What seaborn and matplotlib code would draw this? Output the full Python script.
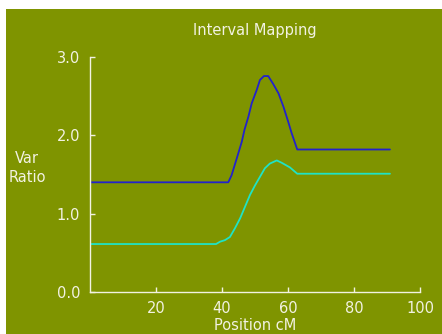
import matplotlib
matplotlib.use("Agg")
import matplotlib.pyplot as plt
from matplotlib.patches import Rectangle
import pandas as pd
import seaborn as sns

# Variance-ratio profiles along the chromosome (cM)
upper_pos = [0, 41.9, 42.9, 44.5, 46.0, 46.8, 48.0, 49.0, 50.5, 51.5, 52.7, 54.0,
             55.5, 57.1, 58.6, 60.1, 61.1, 62.8, 90.9]
upper_ratio = [1.40, 1.40, 1.49, 1.71, 1.92, 2.07, 2.24, 2.41, 2.58, 2.71, 2.76, 2.76,
               2.66, 2.54, 2.37, 2.17, 2.03, 1.82, 1.82]

lower_pos = [0, 38.2, 39.4, 40.9, 42.4, 43.9, 45.5, 47.0, 48.5, 50.0, 51.5, 53.0,
             54.5, 56.6, 58.1, 60.6, 62.8, 90.9]
lower_ratio = [0.61, 0.61, 0.64, 0.66, 0.70, 0.81, 0.94, 1.09, 1.24, 1.36, 1.47, 1.58,
               1.64, 1.68, 1.65, 1.59, 1.51, 1.51]

x_ticks = [20, 40, 60, 80, 100]
y_ticks = [0.0, 1.0, 2.0, 3.0]
y_tick_labels = ["0.0", "1.0", "2.0", "3.0"]

BG = "#7f9400"
FG = "#f2f2e2"
LINE_COLORS = {"upper": "#2222cc", "lower": "#1fe3c6"}

df = pd.concat([
    pd.DataFrame({"pos": upper_pos, "ratio": upper_ratio, "series": "upper"}),
    pd.DataFrame({"pos": lower_pos, "ratio": lower_ratio, "series": "lower"}),
], ignore_index=True)

sns.set_style("white")
plt.rcParams["font.family"] = ["DejaVu Sans"]

W, H = 442, 334
fig = plt.figure(figsize=(W / 100, H / 100), dpi=100, facecolor="white")
fig.add_artist(Rectangle((6 / W, 0), 1 - 6 / W, (H - 9) / H, transform=fig.transFigure,
                         facecolor=BG, edgecolor="none", zorder=-10))

ax = fig.add_axes([90 / W, (H - 291.7) / H, 330 / W, (291.7 - 57.3) / H])
ax.set_facecolor("none")

sns.lineplot(data=df, x="pos", y="ratio", hue="series", palette=LINE_COLORS,
             linewidth=1.3, legend=False, ax=ax, sort=False, estimator=None)

ax.set_xlim(0, 100)
ax.set_ylim(0, 3)
ax.set_xticks(x_ticks)
ax.set_xticklabels([str(t) for t in x_ticks])
ax.set_yticks(y_ticks)
ax.set_yticklabels(y_tick_labels)
ax.set_xlabel("")
ax.set_ylabel("")

for side in ("top", "right"):
    ax.spines[side].set_visible(False)
for side in ("left", "bottom"):
    ax.spines[side].set_color(FG)
    ax.spines[side].set_linewidth(1.0)

ax.tick_params(axis="both", which="major", bottom=True, left=True, direction="in",
               length=3.5, width=1.0, color=FG, labelcolor=FG, labelsize=10.5, pad=7)

fig.text(255 / W, (H - 31) / H, "Interval Mapping", ha="center", va="center",
         color=FG, fontsize=10.5)
fig.text(255 / W, (H - 325) / H, "Position cM", ha="center", va="center",
         color=FG, fontsize=10.5)
fig.text(27 / W, (H - 168) / H, "Var\nRatio", ha="center", va="center",
         color=FG, fontsize=10.5, linespacing=1.35, multialignment="center")

fig.savefig("out.png", dpi=100, facecolor="white")
